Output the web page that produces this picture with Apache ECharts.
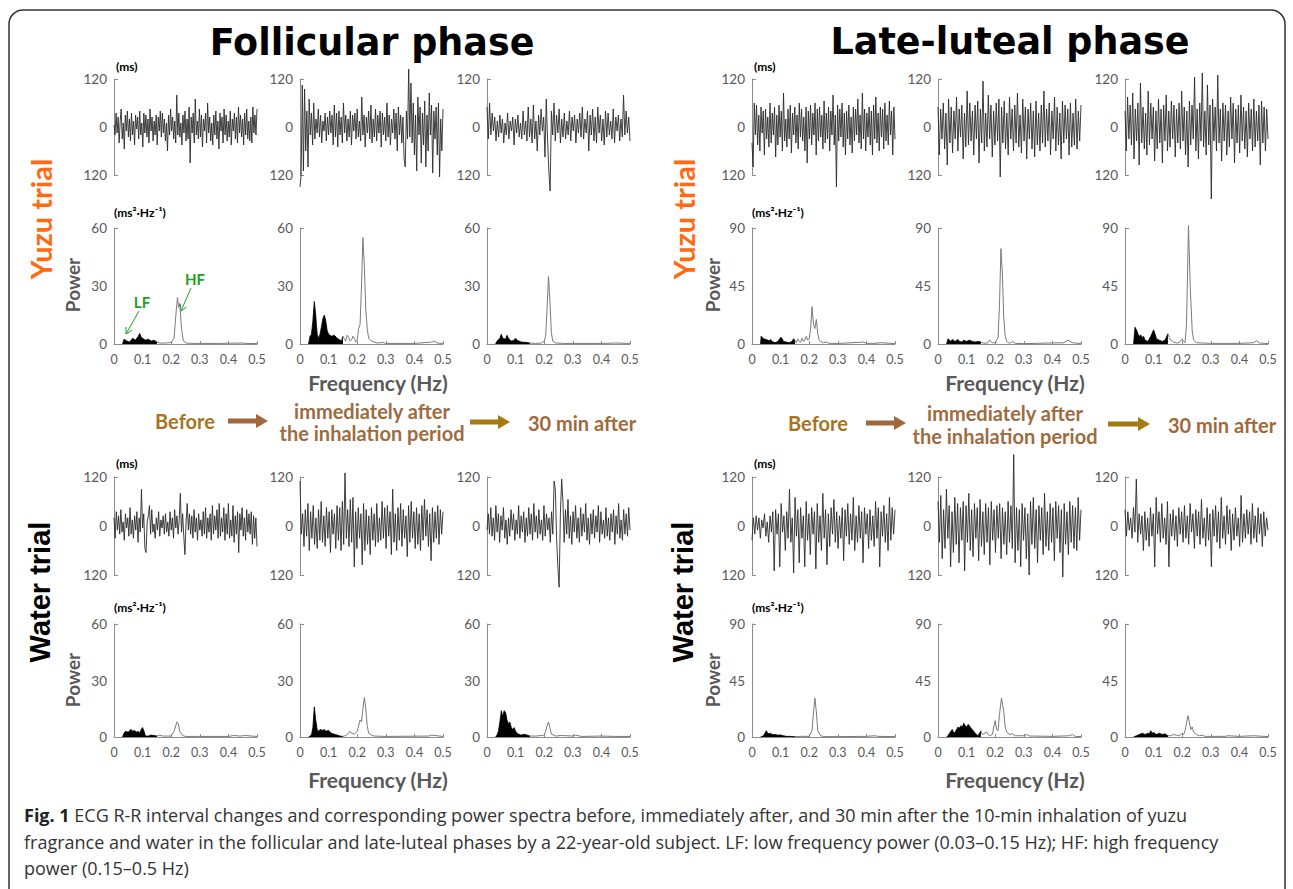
<!DOCTYPE html>
<html><head><meta charset="utf-8">
<script src="https://cdn.jsdelivr.net/npm/echarts@6/dist/echarts.min.js"></script>
<style>html,body{margin:0;padding:0;background:#fff}#c{width:1293px;height:889px}</style>
</head><body><div id="c"></div>
<script>
// ---------- R-R interval deviations (ms) ----------
const fY_before = [5,-20,35,-15,25,-40,15,45,-30,10,-55,30,-10,40,-25,20,-35,35,-20,15,-45,30,-5,25,-30,40,-20,10,-50,35,-15,30,-25,20,-40,45,-10,25,-35,15,-20,30,-45,25,-10,40,-25,35,-15,20,-35,10,-60,30,-20,45,-10,25,-30,15,-40,80,-20,35,-25,10,-45,30,-15,40,-35,20,-30,50,-90,25,-15,35,-40,70,-20,15,-30,45,-25,30,-50,20,-10,35,-40,60,-15,25,-35,10,-45,30,-20,40,-30,15,-55,35,-10,25,-40,45,-20,30,-35,15,-25,40,-45,20,-10,35,-30,25,-40,50,-15,30,-25,20,-45,35,-20,45,-30,15,-35,25,-40,50,-15,30,-20,45];
const fY_immediate = [-150,-120,105,-110,95,-60,40,-100,70,-20,35,-45,60,-30,20,-15,45,-25,30,-40,15,-10,35,-35,25,-20,40,-15,30,-45,55,-25,35,-50,40,-20,25,-40,60,-15,30,-35,20,-25,40,-45,30,-10,35,-30,45,-25,15,-35,75,-20,30,-50,25,-15,40,-30,55,-40,20,-25,45,-35,30,-15,40,-50,35,-20,25,-35,60,-25,30,-45,20,-15,45,-30,35,-60,50,-20,30,-40,25,-80,-100,40,-30,145,-25,110,-40,60,-70,30,-110,75,-20,50,-90,35,-45,65,-100,30,-60,85,-20,55,-115,40,-30,50,-70,60,-125,20,-60,45];
const fY_30min = [50,-30,60,-20,35,-10,25,-35,15,-25,30,-15,20,-40,10,-20,35,-30,15,-10,25,-45,20,-15,30,-25,10,-30,40,-20,15,-35,50,-25,20,-40,55,-30,15,-60,30,-20,45,-10,25,-75,70,-30,-110,-160,40,-20,60,-35,30,-15,45,-40,20,-25,35,-30,15,-20,40,-35,25,-10,30,-40,20,-15,35,-25,50,-30,20,-15,40,-60,30,-20,45,-35,25,-40,50,-15,30,-35,20,-45,40,-25,35,-20,15,-30,45,-40,25,-10,30,-35,20,-25,80,-20,40,-15,25,-35];
const lY_before = [-40,-100,60,-20,55,-45,30,-60,50,-15,40,-70,45,-30,25,-50,60,-40,35,-20,50,-75,30,-45,55,-25,40,-60,85,-35,20,-50,45,-30,55,-65,35,-20,50,-40,30,-55,60,-25,45,-35,25,-60,50,-90,40,-30,55,-45,35,-20,60,-70,45,-35,50,-25,30,-55,65,-40,35,-30,50,-60,40,-20,80,-45,30,-150,55,-35,45,-25,60,-50,35,-70,40,-30,55,-45,25,-65,50,-35,45,-20,70,-40,30,-55,85,-30,45,-60,35,-25,50,-45,40,-70,55,-30,75,-40,35,-60,50,-25,45,-55,60,-35,30,-45,65,-20,40,-70,50,-30];
const lY_immediate = [50,-70,45,-30,60,-55,35,-95,70,-40,50,-65,40,-30,75,-60,45,-25,55,-80,35,-50,90,-45,60,-35,40,-70,55,-30,65,-90,45,-40,115,-60,35,-50,80,-30,55,-75,40,-45,60,-35,70,-125,50,-40,65,-55,35,-70,75,-30,45,-60,55,-40,85,-50,30,-65,70,-35,50,-80,45,-30,60,-55,40,-75,65,-45,35,-60,55,-40,90,-50,45,-35,60,-70,40,-30,75,-60,50,-45,35,-80,65,-40,55,-30,45,-70,60,-50,35,-45,70,-55,40,-35,55];
const lY_30min = [40,-60,75,-30,55,-45,85,-80,45,-35,60,-95,110,-40,50,-55,35,-70,90,-45,60,-30,50,-85,40,-55,70,-40,45,-90,55,-35,80,-60,40,-50,65,-30,55,-75,45,-40,60,-55,90,-35,50,-70,40,-100,65,-45,55,-30,125,-60,45,-80,60,-35,135,-50,40,-70,105,-45,55,-180,70,-35,50,-60,130,-40,45,-85,60,-35,55,-70,40,-50,75,-30,60,-90,45,-40,55,-65,80,-35,50,-55,40,-75,60,-30,45,-60,70,-50,40,-35,55,-95,65,-40,50,-60,45,-30];
const fW_before = [20,-30,35,-10,25,-20,40,-15,10,-35,30,-5,20,-25,45,-20,15,-30,25,-10,35,-40,20,-15,90,-5,30,-55,-65,10,25,50,-20,40,-15,5,-30,20,-10,35,-25,15,-5,25,-20,30,-15,10,-25,35,-10,20,-30,40,-5,25,-20,15,80,-15,30,-25,-70,10,55,-10,30,-20,25,-30,40,-15,20,-35,30,-10,15,-25,35,-20,45,-30,20,-15,30,-35,50,-20,25,-10,40,-30,55,-25,20,-15,45,-35,30,-20,55,-30,15,-25,50,-40,25,-20,35,-65,30,-10,45,-25,20,-35,40,-15,30,-20,35,-45,25,-30,20,-50];
const fW_immediate = [110,-20,30,-50,40,-25,55,-60,35,-30,50,-45,20,-55,40,-35,60,-40,25,-50,45,-30,35,-65,40,-20,30,-55,50,-35,45,-60,60,-45,130,-30,40,-50,65,-40,70,-100,35,-55,45,-30,30,-95,55,-60,40,-45,25,-70,45,-35,30,-50,55,-40,20,-35,60,-30,45,-55,50,-25,35,-70,90,-40,30,-60,45,-35,55,-50,40,-30,25,-75,50,-40,60,-30,35,-55,45,-45,30,-60,50,-35,65,-25,40,-50,30,-85,45,-40,35,-30,50,-45,40,-20,35];
const fW_30min = [-10,30,-20,45,-25,20,-35,50,-15,30,-40,25,-10,45,-30,15,-45,20,-25,40,-10,30,-35,15,-20,50,-30,25,-15,35,-40,20,-25,45,-20,30,-35,55,-15,25,-30,40,-20,15,-35,50,-25,30,-10,20,-40,35,-20,110,90,-30,-100,-150,30,115,60,-40,40,-20,65,-30,25,-45,35,-15,50,-30,20,-40,45,-25,30,-15,55,-35,20,-45,30,-20,40,-30,25,-15,50,-40,35,-20,15,-30,45,-25,20,-35,30,-15,40,-45,25,-20,55,-30,15,-35,40,-20,30,-25,45,-10];
const lW_before = [-35,20,-20,25,-10,20,-30,15,-5,30,-25,10,-40,25,-15,35,-110,40,-20,30,-100,55,-15,25,-60,35,-30,90,-40,20,-115,70,-25,40,-90,45,-30,25,-100,60,-35,30,-70,45,-20,35,-105,55,-40,25,-60,80,-30,40,-95,30,-50,45,-20,65,-40,35,-55,25,-30,45,-85,40,-25,55,-45,30,-35,70,-60,25,-40,50,-30,35,-90,45,-20,30,-55,40,-35,25,-50,60,-30,45,-100,35,-25,50,-40,30,-60,70,-35,45,-20,40];
const lW_immediate = [60,-40,75,-80,40,-55,90,-30,50,-100,35,-65,70,-45,55,-90,45,-35,60,-110,50,-40,80,-60,40,-75,55,-30,45,-85,65,-50,35,-70,55,-40,45,-95,60,-35,40,-65,50,-30,55,-80,45,-45,35,-70,60,-40,50,-55,175,-90,45,-60,40,-100,55,-35,45,-80,30,-120,60,-45,70,-55,40,-90,50,-35,45,-70,80,-50,35,-60,55,-40,45,-85,60,-30,50,-65,40,-125,55,-45,35,-70,60,-40,50,-55,45,-60,70,-35,40];
const lW_30min = [40,-25,35,-10,20,-30,45,-15,115,-40,30,-20,25,-60,35,-35,20,-50,45,-25,30,-100,70,-20,35,-40,55,-30,20,-45,60,-100,30,-25,40,-35,25,-50,45,-20,35,-40,50,-30,25,-45,55,-15,30,-55,40,-25,35,-45,65,-30,20,-50,45,-35,30,-100,40,-25,50,-40,35,-55,70,-30,25,-45,50,-20,40,-60,30,-35,45,-25,20,-50,75,-40,30,-30,40,-20,35,-45,55,-30,25,-40,45,-20,30,-50,35,-25,20,-10];

// ---------- Power spectra [frequency Hz, power ms²/Hz] ----------
const fYp_before = [[0.03,0],[0.035,2.5],[0.045,1.5],[0.055,1],[0.065,3],[0.075,2],[0.085,4],[0.09,5.5],[0.095,3.5],[0.1,3],[0.11,2],[0.12,2.5],[0.13,1.5],[0.14,2],[0.15,1],[0.16,0.5],[0.18,0.5],[0.2,0.8],[0.21,3],[0.218,18],[0.222,24],[0.226,19],[0.23,21],[0.236,8],[0.242,2],[0.25,0.5],[0.28,0.3],[0.37,0.3],[0.45,0.5],[0.46,0.3],[0.5,0.2]];
const fYp_immediate = [[0.03,0],[0.035,4],[0.04,5],[0.045,12],[0.05,22],[0.055,15],[0.06,5],[0.065,3],[0.07,5],[0.075,9],[0.08,13],[0.085,15],[0.09,12],[0.095,7],[0.1,5],[0.11,4],[0.12,4.5],[0.13,3],[0.14,2],[0.145,1.5],[0.15,4],[0.16,1.5],[0.165,4.5],[0.17,3.5],[0.175,1.5],[0.18,2],[0.185,4],[0.19,3],[0.195,1],[0.2,2],[0.205,8],[0.21,10],[0.215,30],[0.22,55],[0.225,40],[0.23,18],[0.235,8],[0.24,3],[0.25,1.5],[0.27,0.5],[0.29,0.8],[0.3,0.3],[0.4,0.3],[0.46,1],[0.47,1.5],[0.48,0.5],[0.5,0.3]];
const fYp_30min = [[0.03,0],[0.035,1.5],[0.045,3],[0.05,5],[0.055,3],[0.065,2.5],[0.07,4.5],[0.075,3],[0.085,1.5],[0.095,2],[0.1,3],[0.105,2],[0.12,1],[0.14,0.8],[0.15,0.5],[0.17,0.3],[0.19,0.5],[0.2,1.5],[0.205,4],[0.21,18],[0.215,35],[0.22,22],[0.225,6],[0.23,1.5],[0.24,0.5],[0.27,0.3],[0.4,0.3],[0.45,0.5],[0.5,0.3]];
const lYp_before = [[0.03,0],[0.032,6],[0.04,4],[0.05,3.5],[0.06,2.5],[0.065,3.5],[0.07,2],[0.08,1],[0.09,2],[0.1,5],[0.105,4.5],[0.11,2],[0.12,1.5],[0.13,1],[0.14,2],[0.145,4],[0.15,3],[0.155,1],[0.16,4],[0.165,2],[0.17,1.5],[0.175,4.5],[0.18,2],[0.185,3],[0.19,6],[0.195,3],[0.2,4],[0.205,12],[0.21,29],[0.215,15],[0.22,12],[0.225,19],[0.23,8],[0.235,3],[0.24,2],[0.25,1],[0.26,1.5],[0.27,0.5],[0.3,0.4],[0.39,1.5],[0.4,0.5],[0.43,0.5],[0.45,1],[0.5,0.3]];
const lYp_immediate = [[0.03,0],[0.035,4],[0.045,2],[0.05,3.5],[0.06,2],[0.07,3.5],[0.075,2],[0.085,1.5],[0.09,3],[0.1,2],[0.11,3],[0.12,2],[0.13,1.5],[0.14,2],[0.15,1.5],[0.16,0.5],[0.175,1],[0.18,3],[0.19,1],[0.2,1],[0.21,5],[0.215,30],[0.22,74],[0.225,55],[0.23,20],[0.235,6],[0.24,2],[0.25,0.5],[0.26,2],[0.27,0.5],[0.3,0.3],[0.44,1],[0.455,3],[0.47,1],[0.5,0.3]];
const lYp_30min = [[0.03,0],[0.035,13],[0.04,11],[0.045,8],[0.05,6],[0.055,7],[0.06,5],[0.065,6],[0.07,3],[0.08,2],[0.09,6],[0.1,11],[0.105,8],[0.11,4],[0.12,3],[0.13,2],[0.14,3],[0.15,8],[0.155,5],[0.16,3],[0.17,1.5],[0.18,0.8],[0.19,1],[0.2,4],[0.205,2],[0.21,1],[0.215,15],[0.222,92],[0.228,45],[0.235,10],[0.24,3],[0.25,1],[0.3,0.5],[0.4,0.5],[0.45,1],[0.46,2.5],[0.47,0.8],[0.5,0.3]];
const fWp_before = [[0.03,0],[0.035,2],[0.04,3],[0.05,2.5],[0.055,3.5],[0.06,4],[0.065,3],[0.07,3.5],[0.08,2.5],[0.085,3],[0.09,2],[0.095,4],[0.1,5],[0.105,3],[0.11,0.5],[0.12,0.5],[0.13,1],[0.14,0.8],[0.15,0.5],[0.16,1],[0.17,0.5],[0.2,0.5],[0.21,3],[0.22,8],[0.225,7],[0.23,3],[0.24,0.8],[0.25,0.3],[0.3,0.3],[0.4,0.3],[0.42,0.8],[0.44,0.5],[0.46,0.8],[0.48,0.5],[0.5,0.3]];
const fWp_immediate = [[0.03,0],[0.04,1],[0.045,5],[0.05,16],[0.055,9],[0.06,4],[0.065,3],[0.07,4],[0.08,3.5],[0.085,4],[0.09,3],[0.1,3.5],[0.11,2],[0.12,1.5],[0.13,1],[0.14,0.5],[0.15,0.3],[0.16,0.8],[0.17,2],[0.175,3],[0.18,2],[0.19,1.5],[0.2,3],[0.21,9],[0.215,8],[0.22,15],[0.225,21],[0.23,15],[0.235,6],[0.24,2],[0.25,1],[0.26,0.5],[0.3,0.3],[0.45,0.5],[0.46,1],[0.5,0.3]];
const fWp_30min = [[0.03,0],[0.035,1],[0.04,3],[0.045,8],[0.05,14],[0.055,11],[0.06,14],[0.065,13],[0.07,9],[0.075,7],[0.08,8],[0.085,5],[0.09,4],[0.095,5],[0.1,3],[0.11,1.5],[0.12,1],[0.13,1.5],[0.14,1],[0.15,0.5],[0.17,0.5],[0.19,0.8],[0.2,1],[0.205,3],[0.21,6],[0.215,8],[0.22,5],[0.225,1.5],[0.24,0.5],[0.26,0.8],[0.3,0.5],[0.31,1],[0.33,0.3],[0.4,0.5],[0.45,0.3],[0.5,0.3]];
const lWp_before = [[0.03,0],[0.04,1],[0.045,3],[0.05,5],[0.055,3],[0.06,2.5],[0.065,3],[0.07,2],[0.08,2],[0.09,1.5],[0.1,1.5],[0.11,1],[0.12,0.5],[0.13,0.5],[0.15,0.3],[0.17,0.5],[0.2,0.5],[0.21,5],[0.215,20],[0.22,31],[0.225,20],[0.23,5],[0.24,1],[0.25,0.3],[0.3,0.3],[0.4,0.5],[0.43,1],[0.44,0.5],[0.5,0.3]];
const lWp_immediate = [[0.03,0],[0.035,1],[0.04,3],[0.05,6],[0.055,3],[0.06,4],[0.065,6],[0.07,8],[0.075,7],[0.08,9],[0.085,8],[0.09,11],[0.095,9],[0.1,8],[0.105,10],[0.11,9],[0.115,7],[0.12,6],[0.13,3],[0.14,1],[0.15,5],[0.155,2],[0.16,2.5],[0.17,4],[0.175,2],[0.18,1],[0.19,2],[0.195,8],[0.2,13],[0.205,6],[0.21,5],[0.215,18],[0.222,31],[0.23,20],[0.235,8],[0.24,4],[0.25,2],[0.26,2.5],[0.27,1],[0.3,1],[0.31,2],[0.32,0.8],[0.4,0.5],[0.46,1],[0.47,2],[0.48,0.5],[0.5,0.3]];
const lWp_30min = [[0.03,0],[0.04,1],[0.05,2],[0.06,3],[0.07,2],[0.08,3],[0.085,2.5],[0.09,5],[0.095,3],[0.1,3.5],[0.11,2],[0.12,3],[0.13,2],[0.14,2.5],[0.15,1],[0.16,1],[0.17,2],[0.18,1.5],[0.19,1],[0.2,3],[0.205,2],[0.21,5],[0.22,17],[0.225,12],[0.23,6],[0.235,8],[0.24,4],[0.25,2],[0.26,1],[0.27,1.5],[0.28,0.5],[0.35,0.5],[0.36,1],[0.4,0.5],[0.45,1],[0.5,0.3]];

// ---------- Text ----------
const phaseTitles = ['Follicular phase', 'Late-luteal phase'];
const trialLabels = ['Yuzu trial', 'Water trial'];
const stageLabels = ['Before', 'immediately after', 'the inhalation period', '30 min after'];
const freqTicks = [0, 0.1, 0.2, 0.3, 0.4, 0.5];
const rrTicks = [-120, 0, 120];
const powerMaxFollicular = 60, powerMaxLuteal = 90;
const captionLines = [
  ['Fig. 1', ' ECG R-R interval changes and corresponding power spectra before, immediately after, and 30 min after the 10-min inhalation of yuzu'],
  ['', 'fragrance and water in the follicular and late-luteal phases by a 22-year-old subject. LF: low frequency power (0.03\u20130.15 Hz); HF: high frequency'],
  ['', 'power (0.15\u20130.5 Hz)']
];

// ---------- Layout ----------
const halves = [
  {cols:[114,300,487], pmax:powerMaxFollicular, rr:[[fY_before,fY_immediate,fY_30min],[fW_before,fW_immediate,fW_30min]], ps:[[fYp_before,fYp_immediate,fYp_30min],[fWp_before,fWp_immediate,fWp_30min]]},
  {cols:[752,938,1125], pmax:powerMaxLuteal, rr:[[lY_before,lY_immediate,lY_30min],[lW_before,lW_immediate,lW_30min]], ps:[[lYp_before,lYp_immediate,lYp_30min],[lWp_before,lWp_immediate,lWp_30min]]}
];
const W = 143;
const rowRR = [{top:79,h:96},{top:477,h:98}];
const rowP = [{top:228,h:116},{top:624,h:113}];
const AX = '#8c8c8c', LAB = '#595959';

const grid=[], xAxis=[], yAxis=[], series=[];
function addGrid(left, top, h){ grid.push({left:left, top:top, width:W, height:h, containLabel:false}); return grid.length-1; }

halves.forEach(hf => {
  [0,1].forEach(tr => {
    [0,1,2].forEach(c => {
      // RR trace
      const rr = hf.rr[tr][c];
      let gi = addGrid(hf.cols[c], rowRR[tr].top, rowRR[tr].h);
      xAxis.push({gridIndex:gi, type:'category', show:false, boundaryGap:false, data: rr.map((_,i)=>i)});
      yAxis.push({gridIndex:gi, type:'value', min:rrTicks[0], max:rrTicks[2], interval:120,
        axisLine:{show:true, lineStyle:{color:AX, width:1}},
        axisTick:{show:true, inside:true, length:4, customValues:[-120,120], lineStyle:{color:AX}},
        axisLabel:{color:LAB, fontSize:13.5, fontFamily:'Lato', margin:7, formatter:v=>String(Math.abs(v))},
        splitLine:{show:false}});
      series.push({type:'line', xAxisIndex:gi, yAxisIndex:gi, data:rr, symbol:'none', clip:false,
        lineStyle:{color:'#2a2a2a', width:0.9}, silent:true});
      // Power spectrum
      const ps = hf.ps[tr][c];
      gi = addGrid(hf.cols[c], rowP[tr].top, rowP[tr].h);
      xAxis.push({gridIndex:gi, type:'value', min:0, max:0.5, interval:0.1,
        axisLine:{show:true, onZero:false, lineStyle:{color:AX, width:1}},
        axisTick:{show:true, inside:true, length:3, lineStyle:{color:AX}},
        axisLabel:{color:LAB, fontSize:12.5, fontFamily:'Lato', margin:9, formatter:v=>String(+v.toFixed(1))},
        splitLine:{show:false}});
      yAxis.push({gridIndex:gi, type:'value', min:0, max:hf.pmax, interval:hf.pmax/2,
        axisLine:{show:true, lineStyle:{color:AX, width:1}},
        axisTick:{show:true, inside:true, length:4, customValues:[hf.pmax], lineStyle:{color:AX}},
        axisLabel:{color:LAB, fontSize:13.5, fontFamily:'Lato', margin:7},
        splitLine:{show:false}});
      series.push({type:'line', xAxisIndex:gi, yAxisIndex:gi, data:ps.filter(p=>p[0]<=0.15), symbol:'none', clip:false,
        lineStyle:{color:'#000', width:0.8}, areaStyle:{color:'#000', opacity:1}, silent:true});
      series.push({type:'line', xAxisIndex:gi, yAxisIndex:gi, data:ps.filter(p=>p[0]>=0.15), symbol:'none', clip:false,
        lineStyle:{color:'#7a7a7a', width:1}, silent:true});
    });
  });
});

// ---------- Graphic decorations ----------
function txt(x, y, text, font, fill, align, rot){
  return {type:'text', x:x, y:y, rotation: rot||0, silent:true,
    style:{text:text, font:font, fill:fill, align:align||'center', verticalAlign:'middle', textAlign:align||'center', textVerticalAlign:'middle'}};
}
function arrowPoly(x1, x2, y, color){
  return {type:'polygon', silent:true, shape:{points:[[x1,y-2.5],[x2-12,y-2.5],[x2-12,y-7],[x2,y],[x2-12,y+7],[x2-12,y+2.5],[x1,y+2.5]]}, style:{fill:color}};
}
function thinArrow(x1, y1, x2, y2, color){
  const dx=x2-x1, dy=y2-y1, L=Math.hypot(dx,dy), ux=-dx/L, uy=-dy/L, c=Math.cos(Math.PI/6), s=Math.sin(Math.PI/6), hl=7;
  const a=[x2+hl*(ux*c-uy*s), y2+hl*(ux*s+uy*c)], b=[x2+hl*(ux*c+uy*s), y2+hl*(-ux*s+uy*c)];
  return [
    {type:'polyline', silent:true, shape:{points:[[x1,y1],[x2,y2]]}, style:{stroke:color, lineWidth:1, fill:null}},
    {type:'polyline', silent:true, shape:{points:[a,[x2,y2],b]}, style:{stroke:color, lineWidth:1, fill:null}}
  ];
}
const g = [];
g.push({type:'rect', silent:true, shape:{x:9, y:10, width:1276, height:920, r:14}, style:{fill:null, stroke:'#333', lineWidth:1.5}});
const TITLE = 'bold 36.5px "DejaVu Sans", sans-serif';
g.push(txt(372, 42, phaseTitles[0], TITLE, '#000'));
g.push(txt(1010, 41, phaseTitles[1], TITLE, '#000'));
const YUZU = 'bold 29px Lato, sans-serif', WATER = 'bold 29px "Liberation Sans", Arial, sans-serif';
[40, 683].forEach(x => {
  g.push(txt(x, 219, trialLabels[0], YUZU, '#ff6a13', 'center', Math.PI/2));
  g.push(txt(x, 592, trialLabels[1], WATER, '#000', 'center', Math.PI/2));
});
const SMALL = 'bold 12px Lato, "DejaVu Sans", sans-serif';
const POW = 'bold 19px Lato, sans-serif', FREQ = 'bold 21px Lato, sans-serif';
[[114, 72, 378], [752, 712, 1015]].forEach(([x0, px, fx]) => {
  g.push(txt(x0+2, 66, '(ms)', SMALL, '#000', 'left'));
  g.push(txt(x0+2, 463, '(ms)', SMALL, '#000', 'left'));
  g.push(txt(x0, 212, '(ms\u00b2\u00b7Hz\u207b\u00b9)', SMALL, '#000', 'left'));
  g.push(txt(x0, 607, '(ms\u00b2\u00b7Hz\u207b\u00b9)', SMALL, '#000', 'left'));
  g.push(txt(px, 285, 'Power', POW, LAB, 'center', Math.PI/2));
  g.push(txt(px, 680, 'Power', POW, LAB, 'center', Math.PI/2));
  g.push(txt(fx, 382, 'Frequency (Hz)', FREQ, LAB));
  g.push(txt(fx, 779, 'Frequency (Hz)', FREQ, LAB));
});
const STG = 'bold 20px Lato, sans-serif';
[[185,421,372,411,433,582,423,228,268,470,510,421],[818,423,1005,413,436,1222,425,866,906,1108,1150,423]].forEach(a => {
  g.push(txt(a[0], a[1], stageLabels[0], STG, '#a6741f'));
  g.push(txt(a[2], a[3], stageLabels[1], STG, '#9e6b3f'));
  g.push(txt(a[2], a[4], stageLabels[2], STG, '#9e6b3f'));
  g.push(txt(a[5], a[6], stageLabels[3], STG, '#a2693a'));
  g.push(arrowPoly(a[7], a[8], a[11], '#a2683c'));
  g.push(arrowPoly(a[9], a[10], a[11]+1, '#a67a12'));
});
// LF / HF annotations
const GREEN = '#22a022';
g.push(txt(142, 302, 'LF', 'bold 15px Lato, sans-serif', GREEN));
g.push(txt(195, 279, 'HF', 'bold 15px Lato, sans-serif', GREEN));
thinArrow(139, 311, 126, 334, GREEN).forEach(e => g.push(e));
thinArrow(191, 288, 181, 311, GREEN).forEach(e => g.push(e));
// caption
const CAP = '18px "Open Sans", sans-serif';
captionLines.forEach((ln, i) => {
  g.push({type:'text', x:24, y:815 + i*26.5, silent:true, style:{
    text: (ln[0] ? '{b|' + ln[0] + '}' : '') + ln[1],
    font: CAP, fill:'#333', align:'left', verticalAlign:'middle', textAlign:'left', textVerticalAlign:'middle',
    rich:{b:{font:'bold 18px "Open Sans", sans-serif', fill:'#222'}}}});
});

const chart = echarts.init(document.getElementById('c'), null, {renderer:'svg'});
chart.setOption({animation:false, backgroundColor:'#fff', grid, xAxis, yAxis, series, graphic:{elements:g}});
</script>
</body></html>
